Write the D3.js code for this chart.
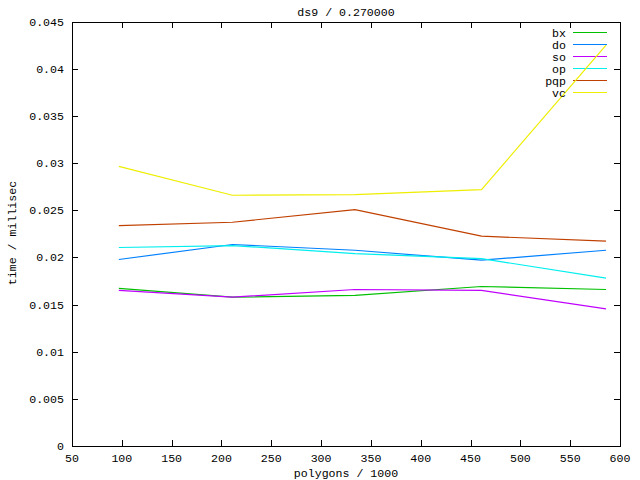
<!DOCTYPE html>
<html>
<head>
<meta charset="utf-8">
<script src="https://cdn.jsdelivr.net/npm/d3@7"></script>
<style>
  body { margin: 0; background: #fff; }
  svg { display: block; }
  text { font-family: "Liberation Mono", "DejaVu Sans Mono", monospace; font-size: 11.6px; fill: #000; }
</style>
</head>
<body>
<svg id="chart" width="640" height="480"></svg>
<script>
const polygons = [97, 211, 334, 461, 586];
const seriesNames = ["bx", "do", "so", "op", "pqp", "vc"];
const bx  = [0.0167, 0.01578, 0.01596, 0.01691, 0.01659];
const doS = [0.01977, 0.02136, 0.02075, 0.0197, 0.02075];
const so  = [0.01649, 0.01578, 0.01659, 0.01649, 0.01454];
const op  = [0.02104, 0.02125, 0.0204, 0.01987, 0.01779];
const pqp = [0.02337, 0.02372, 0.02506, 0.02224, 0.02171];
const vc  = [0.02965, 0.02658, 0.02665, 0.02718, 0.04249];
const colors = ["#00c000", "#0080ff", "#c000ff", "#00eeee", "#c04000", "#eeee00"];
const xTicks = [50, 100, 150, 200, 250, 300, 350, 400, 450, 500, 550, 600];
const yTicks = [0, 0.005, 0.01, 0.015, 0.02, 0.025, 0.03, 0.035, 0.04, 0.045];
const titleText = "ds9 / 0.270000";
const xLabel = "polygons / 1000";
const yLabel = "time / millisec";

const series = [bx, doS, so, op, pqp, vc];

const L = 72, R = 620, T = 21.5, B = 446;
const svg = d3.select("#chart");
const x = d3.scaleLinear().domain([50, 600]).range([L, R]);
const y = d3.scaleLinear().domain([0, 0.045]).range([B, T]);

const g = svg.append("g").attr("shape-rendering", "crispEdges");

// ticks (inward, mirrored)
const tl = 6;
xTicks.forEach(t => {
  const px = Math.round(x(t)) + 0.5;
  g.append("line").attr("x1", px).attr("x2", px).attr("y1", B).attr("y2", B - tl).attr("stroke", "#000");
  g.append("line").attr("x1", px).attr("x2", px).attr("y1", T).attr("y2", T + tl).attr("stroke", "#000");
  svg.append("text").attr("x", x(t)).attr("y", 462).attr("text-anchor", "middle").text(d3.format("")(t));
});
yTicks.forEach(t => {
  const py = Math.round(y(t)) + 0.5;
  g.append("line").attr("x1", L).attr("x2", L + tl).attr("y1", py).attr("y2", py).attr("stroke", "#000");
  g.append("line").attr("x1", R).attr("x2", R - tl).attr("y1", py).attr("y2", py).attr("stroke", "#000");
  svg.append("text").attr("x", 64).attr("y", y(t) + 4).attr("text-anchor", "end").text(d3.format("")(t));
});

// border
g.append("rect").attr("x", L + 0.5).attr("y", T + 0.5).attr("width", R - L).attr("height", B - T)
  .attr("fill", "none").attr("stroke", "#000");

// lines
const line = d3.line().x((d, i) => x(polygons[i])).y(d => y(d));
series.forEach((s, k) => {
  svg.append("path").datum(s).attr("d", line).attr("fill", "none")
    .attr("stroke", colors[k]).attr("stroke-width", 1.2);
});

// legend
seriesNames.forEach((n, k) => {
  const ly = 32.5 + k * 12;
  svg.append("text").attr("x", 566).attr("y", ly + 4).attr("text-anchor", "end").text(n);
  g.append("line").attr("x1", 573).attr("x2", 607).attr("y1", ly).attr("y2", ly)
    .attr("stroke", colors[k]);
});

// labels
svg.append("text").attr("x", 346).attr("y", 16).attr("text-anchor", "middle").text(titleText);
svg.append("text").attr("x", 346).attr("y", 477).attr("text-anchor", "middle").text(xLabel);
svg.append("text").attr("transform", "translate(16,233) rotate(-90)").attr("text-anchor", "middle").text(yLabel);
</script>
</body>
</html>
